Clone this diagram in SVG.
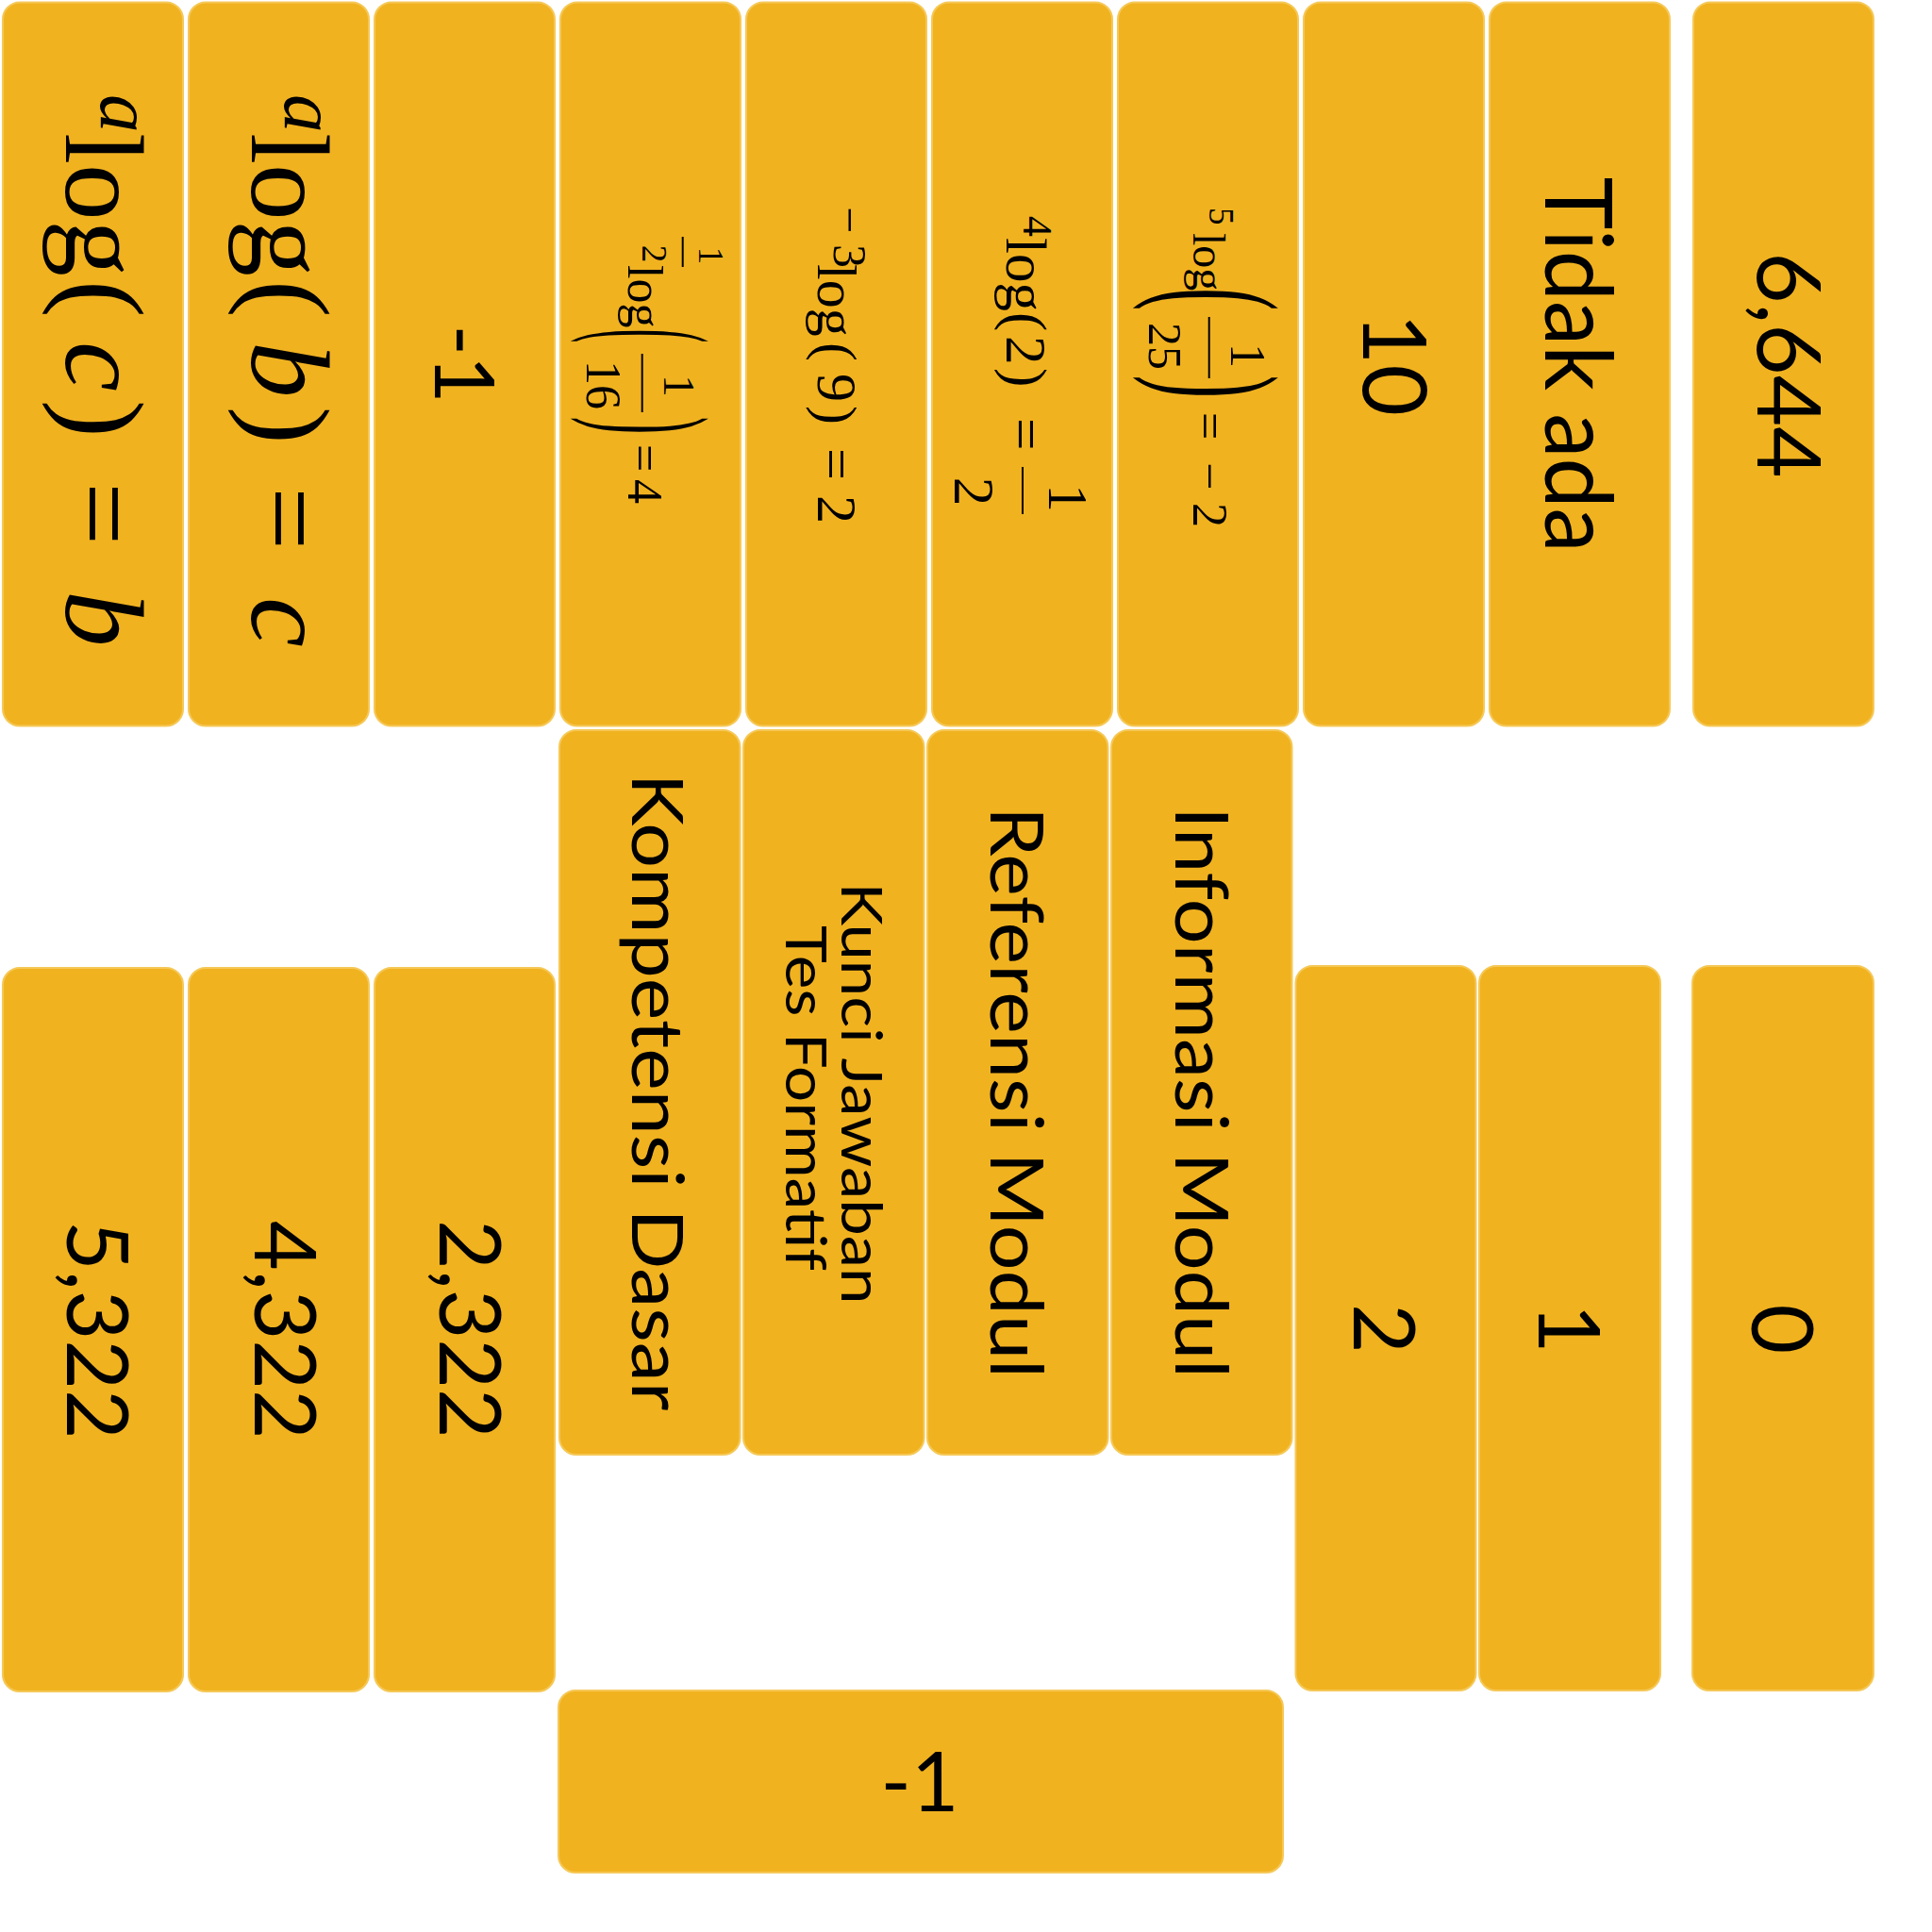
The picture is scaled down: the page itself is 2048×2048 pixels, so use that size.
<svg xmlns="http://www.w3.org/2000/svg" width="2048" height="2048" viewBox="0 0 2048 2048">
<style>
.box{fill:#F1B220;stroke:#F5C857;stroke-width:2}
.lbl{font-family:Lato,"Open Sans","DejaVu Sans",sans-serif;fill:#000}
.m{font-family:"Liberation Serif","Times New Roman",serif;fill:#000}
.i{font-style:italic}
.bar{stroke:#000;stroke-width:2}
</style>
<rect x="0" y="0" width="2048" height="2048" fill="#fff"/>
<g id="connectors"/>

<!-- top row -->
<g id="n-t1">
<rect class="box" x="3" y="2.5" width="191" height="767" rx="18"/>
<g class="m" transform="translate(70,0) rotate(90)">
<text class="i" x="100" y="-37" font-size="81">a</text>
<text x="141" y="0" font-size="119">log</text>
<text x="297" y="0" font-size="119">(</text>
<text class="i" x="362" y="0" font-size="119">c</text>
<text x="424" y="0" font-size="119">)</text>
<text x="511" y="0" font-size="119">=</text>
<text class="i" x="626" y="0" font-size="119">b</text>
</g>
</g>
<g id="n-t2">
<rect class="box" x="200" y="2.5" width="191" height="767" rx="18"/>
<g class="m" transform="translate(266.7,0) rotate(90)">
<text class="i" x="100" y="-35" font-size="81">a</text>
<text x="141" y="0" font-size="119">log</text>
<text x="297" y="0" font-size="119">(</text>
<text class="i" x="362" y="0" font-size="119">b</text>
<text x="431" y="0" font-size="119">)</text>
<text x="516" y="0" font-size="119">=</text>
<text class="i" x="633" y="0" font-size="119">c</text>
</g>
</g>
<g id="n-t3">
<rect class="box" x="397" y="2.5" width="191" height="767" rx="18"/>
<text class="lbl" transform="translate(461,386) rotate(90)" x="0" y="0" text-anchor="middle" font-size="88">-1</text>
</g>
<g id="n-t4">
<rect class="box" x="594" y="2.5" width="191" height="767" rx="18"/>
<g class="m" transform="translate(665.7,0) rotate(90)">
<text x="271" y="-75" font-size="37" text-anchor="middle">1</text>
<line class="bar" x1="251" y1="-58" x2="283" y2="-58"/>
<text x="269" y="-15" font-size="37" text-anchor="middle">2</text>
<text x="281" y="0" font-size="52">log</text>
<text x="349" y="26.7" font-size="160" textLength="14" lengthAdjust="spacingAndGlyphs">(</text>
<text x="409" y="-38" font-size="47" text-anchor="middle">1</text>
<line class="bar" x1="375" y1="-15" x2="437" y2="-15"/>
<text x="408" y="44" font-size="52" text-anchor="middle">16</text>
<text x="442" y="26.7" font-size="160" textLength="18" lengthAdjust="spacingAndGlyphs">)</text>
<text x="471" y="0" font-size="52">=</text>
<text x="508" y="0" font-size="52">4</text>
</g>
</g>
<g id="n-t5">
<rect class="box" x="791" y="2.5" width="191" height="767" rx="18"/>
<g class="m" transform="translate(867,0) rotate(90)">
<text x="219" y="-17" font-size="50">−</text>
<text x="259" y="-17" font-size="50">3</text>
<text x="280" y="0" font-size="60">log</text>
<text x="363" y="0" font-size="60">(</text>
<text x="396" y="0" font-size="60">9</text>
<text x="430" y="0" font-size="60">)</text>
<text x="475" y="0" font-size="60">=</text>
<text x="525" y="0" font-size="60">2</text>
</g>
</g>
<g id="n-t6">
<rect class="box" x="988" y="2.5" width="191" height="767" rx="18"/>
<g class="m" transform="translate(1066.7,0) rotate(90)">
<text x="229" y="-18.3" font-size="44">4</text>
<text x="252" y="0" font-size="61">log</text>
<text x="331" y="0" font-size="61">(</text>
<text x="356" y="0" font-size="61">2</text>
<text x="390" y="0" font-size="61">)</text>
<text x="443" y="0" font-size="61">=</text>
<text x="528" y="-45" font-size="59" text-anchor="middle">1</text>
<line class="bar" x1="495" y1="-17.3" x2="545" y2="-17.3"/>
<text x="521" y="55" font-size="61" text-anchor="middle">2</text>
</g>
</g>
<g id="n-t7">
<rect class="box" x="1185" y="2.5" width="191" height="767" rx="18"/>
<g class="m" transform="translate(1265,0) rotate(90)">
<text x="220" y="-16.7" font-size="37">5</text>
<text x="247" y="0" font-size="48">log</text>
<text x="305" y="28" font-size="170" textLength="24" lengthAdjust="spacingAndGlyphs">(</text>
<text x="377" y="-40" font-size="52" text-anchor="middle">1</text>
<line class="bar" x1="336" y1="-16.7" x2="401" y2="-16.7"/>
<text x="367" y="47" font-size="50" text-anchor="middle">25</text>
<text x="398" y="28" font-size="170" textLength="24" lengthAdjust="spacingAndGlyphs">)</text>
<text x="437" y="0" font-size="52">=</text>
<text x="490" y="0" font-size="52">−</text>
<text x="533" y="0" font-size="52">2</text>
</g>
</g>
<g id="n-t8">
<rect class="box" x="1382" y="2.5" width="191" height="767" rx="18"/>
<text class="lbl" transform="translate(1445,386.5) rotate(90)" x="0" y="0" text-anchor="middle" font-size="94">10</text>
</g>
<g id="n-t9">
<rect class="box" x="1579" y="2.5" width="191" height="767" rx="18"/>
<text class="lbl" transform="translate(1637.7,386.5) rotate(90)" x="0" y="0" text-anchor="middle" font-size="98" textLength="398" lengthAdjust="spacingAndGlyphs">Tidak ada</text>
</g>
<g id="n-t10">
<rect class="box" x="1795" y="2.5" width="191" height="767" rx="18"/>
<text class="lbl" transform="translate(1862.6,387) rotate(90)" x="0" y="0" text-anchor="middle" font-size="94">6,644</text>
</g>

<!-- middle row -->
<g id="n-m1">
<rect class="box" x="593" y="774" width="191.5" height="768" rx="18"/>
<text class="lbl" transform="translate(670,1157.5) rotate(90)" x="0" y="0" text-anchor="middle" font-size="76" textLength="676" lengthAdjust="spacingAndGlyphs">Kompetensi Dasar</text>
</g>
<g id="n-m2">
<rect class="box" x="788" y="774" width="191.5" height="768" rx="18"/>
<text class="lbl" transform="translate(892,1159) rotate(90)" x="0" y="0" text-anchor="middle" font-size="60" textLength="447" lengthAdjust="spacingAndGlyphs">Kunci Jawaban</text>
<text class="lbl" transform="translate(833,1164) rotate(90)" x="0" y="0" text-anchor="middle" font-size="60" textLength="366" lengthAdjust="spacingAndGlyphs">Tes Formatif</text>
</g>
<g id="n-m3">
<rect class="box" x="983" y="774" width="191.5" height="768" rx="18"/>
<text class="lbl" transform="translate(1050,1158) rotate(90)" x="0" y="0" text-anchor="middle" font-size="78" textLength="606" lengthAdjust="spacingAndGlyphs">Referensi Modul</text>
</g>
<g id="n-m4">
<rect class="box" x="1178" y="774" width="191.5" height="768" rx="18"/>
<text class="lbl" transform="translate(1245.7,1158) rotate(90)" x="0" y="0" text-anchor="middle" font-size="78" textLength="606" lengthAdjust="spacingAndGlyphs">Informasi Modul</text>
</g>

<!-- bottom-left -->
<g id="n-b1">
<rect class="box" x="3" y="1026" width="191" height="767" rx="18"/>
<text class="lbl" transform="translate(71,1410) rotate(90)" x="0" y="0" text-anchor="middle" font-size="91">5,322</text>
</g>
<g id="n-b2">
<rect class="box" x="200" y="1026" width="191" height="767" rx="18"/>
<text class="lbl" transform="translate(270,1410) rotate(90)" x="0" y="0" text-anchor="middle" font-size="91">4,322</text>
</g>
<g id="n-b3">
<rect class="box" x="397" y="1026" width="191" height="767" rx="18"/>
<text class="lbl" transform="translate(466,1409) rotate(90)" x="0" y="0" text-anchor="middle" font-size="91">2,322</text>
</g>

<!-- bottom-right -->
<g id="n-r1">
<rect class="box" x="1373.5" y="1024" width="191" height="768" rx="18"/>
<text class="lbl" transform="translate(1435,1408.5) rotate(90)" x="0" y="0" text-anchor="middle" font-size="91">2</text>
</g>
<g id="n-r2">
<rect class="box" x="1568" y="1024" width="192" height="768" rx="18"/>
<text class="lbl" transform="translate(1631,1408.5) rotate(90)" x="0" y="0" text-anchor="middle" font-size="91">1</text>
</g>
<g id="n-r3">
<rect class="box" x="1794" y="1024" width="192" height="768" rx="18"/>
<text class="lbl" transform="translate(1856.6,1409) rotate(90)" x="0" y="0" text-anchor="middle" font-size="91">0</text>
</g>

<!-- bottom horizontal -->
<g id="n-h1">
<rect class="box" x="592" y="1792" width="768" height="193" rx="18"/>
<text class="lbl" x="975" y="1920" text-anchor="middle" font-size="87">-1</text>
</g>
</svg>
